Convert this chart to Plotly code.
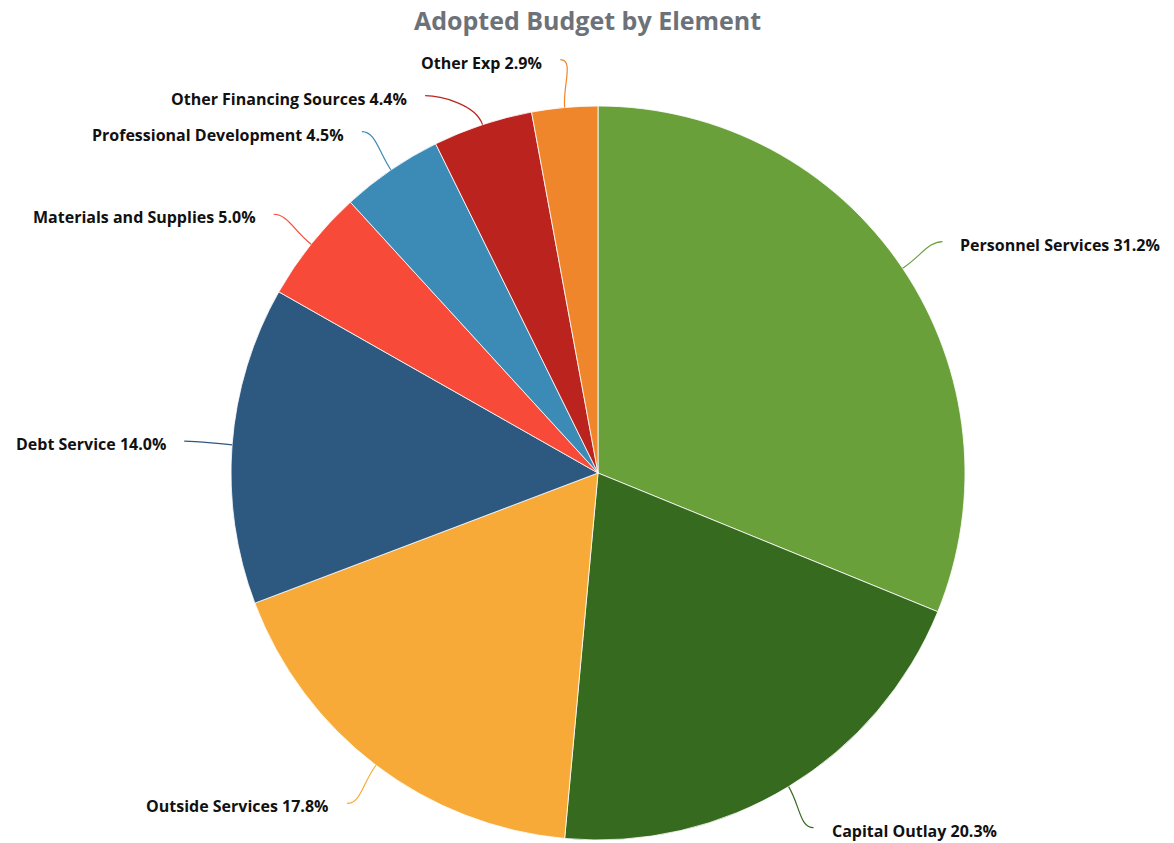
import math
import plotly.graph_objects as go

# Adopted budget shares by element (percent of total)
elements = [
    "Personnel Services",
    "Capital Outlay",
    "Outside Services",
    "Debt Service",
    "Materials and Supplies",
    "Professional Development",
    "Other Financing Sources",
    "Other Exp",
]
shares = [31.2, 20.3, 17.8, 14.0, 5.0, 4.5, 4.4, 2.9]
colors = ["#6aa03a", "#366a1f", "#f7aa37", "#2d5880",
          "#f84a38", "#3c8ab6", "#bb231e", "#f0862b"]

W, H = 1174, 843
CX, CY, R = 598, 473, 367          # pie centre / radius in pixels
LABEL_R = 415                      # radius where leader lines end
MIN_GAP = 36                       # min vertical spacing between labels
FONT = "Open Sans"


def px(x):
    return x / W


def py(y):
    return 1 - y / H


fig = go.Figure(go.Pie(
    labels=elements,
    values=shares,
    sort=False,
    direction="clockwise",
    rotation=0,
    marker=dict(colors=colors, line=dict(color="white", width=0.8)),
    textinfo="none",
    hoverinfo="label+percent",
    showlegend=False,
    domain=dict(x=[px(CX - R), px(CX + R)], y=[py(CY + R), py(CY - R)]),
))

# mid-angle of each slice, measured clockwise from 12 o'clock
total = sum(shares)
mids, acc = [], 0.0
for v in shares:
    mids.append((acc + v / 2) / total * 2 * math.pi)
    acc += v

# label end points on an outer circle, pushed apart vertically per side
ends = {}
for side in (1, -1):
    idx = [i for i, a in enumerate(mids) if (math.sin(a) >= 0) == (side == 1)]
    idx.sort(key=lambda i: CY - LABEL_R * math.cos(mids[i]))
    last_y = -1e9
    for i in idx:
        y = CY - LABEL_R * math.cos(mids[i])
        y = max(y, last_y + MIN_GAP)
        c = max(-1.0, min(1.0, (CY - y) / LABEL_R))
        x = CX + side * LABEL_R * math.sqrt(1 - c * c)
        ends[i] = (x, y)
        last_y = y

shapes, annotations = [], []
for i, a in enumerate(mids):
    sx, sy = CX + R * math.sin(a), CY - R * math.cos(a)
    c1x, c1y = CX + (R + 22) * math.sin(a), CY - (R + 22) * math.cos(a)
    ex, ey = ends[i]
    side = 1 if ex >= CX else -1
    c2x, c2y = ex - side * 14, ey
    path = (f"M {px(sx)} {py(sy)} C {px(c1x)} {py(c1y)}, "
            f"{px(c2x)} {py(c2y)}, {px(ex)} {py(ey)}")
    shapes.append(dict(type="path", path=path, xref="paper", yref="paper",
                       line=dict(color=colors[i], width=1.2)))
    annotations.append(dict(
        x=px(ex + side * 16), y=py(ey + 3), xref="paper", yref="paper",
        text=f"{elements[i]} {shares[i]:.1f}%", showarrow=False,
        xanchor="left" if side == 1 else "right", yanchor="middle",
        font=dict(family=FONT, size=16, color="#111111", weight="bold"),
    ))

annotations.append(dict(
    x=px(587), y=py(20), xref="paper", yref="paper",
    text="Adopted Budget by Element", showarrow=False,
    xanchor="center", yanchor="middle",
    font=dict(family=FONT, size=25, color="#6d7178", weight="bold"),
))

fig.update_layout(
    width=W, height=H,
    margin=dict(l=0, r=0, t=0, b=0),
    paper_bgcolor="white", plot_bgcolor="white",
    shapes=shapes, annotations=annotations,
)

fig.write_html("out.html")
